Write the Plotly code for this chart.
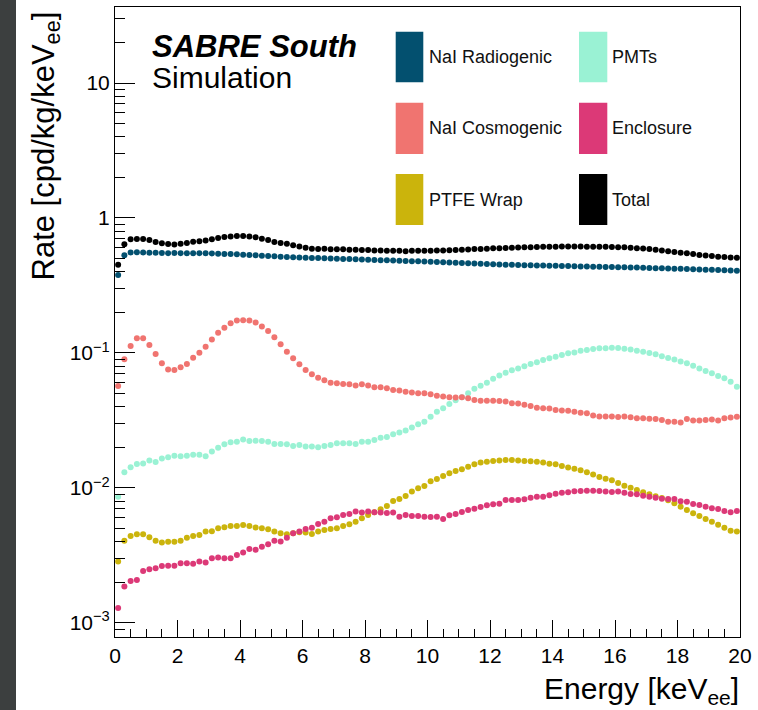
import plotly.graph_objects as go

# ---------------- data ----------------
energy = [0.1, 0.3, 0.5, 0.7, 0.9, 1.1, 1.3, 1.5, 1.7, 1.9,
          2.1, 2.3, 2.5, 2.7, 2.9, 3.1, 3.3, 3.5, 3.7, 3.9,
          4.1, 4.3, 4.5, 4.7, 4.9, 5.1, 5.3, 5.5, 5.7, 5.9,
          6.1, 6.3, 6.5, 6.7, 6.9, 7.1, 7.3, 7.5, 7.7, 7.9,
          8.1, 8.3, 8.5, 8.7, 8.9, 9.1, 9.3, 9.5, 9.7, 9.9,
          10.1, 10.3, 10.5, 10.7, 10.9, 11.1, 11.3, 11.5, 11.7, 11.9,
          12.1, 12.3, 12.5, 12.7, 12.9, 13.1, 13.3, 13.5, 13.7, 13.9,
          14.1, 14.3, 14.5, 14.7, 14.9, 15.1, 15.3, 15.5, 15.7, 15.9,
          16.1, 16.3, 16.5, 16.7, 16.9, 17.1, 17.3, 17.5, 17.7, 17.9,
          18.1, 18.3, 18.5, 18.7, 18.9, 19.1, 19.3, 19.5, 19.7, 19.9]

nai_radiogenic = [0.378, 0.53, 0.556, 0.558, 0.556, 0.553, 0.552, 0.55, 0.549, 0.55,
                  0.549, 0.548, 0.548, 0.549, 0.548, 0.546, 0.544, 0.542, 0.54, 0.538,
                  0.535, 0.532, 0.529, 0.526, 0.523, 0.52, 0.517, 0.515, 0.512, 0.51,
                  0.508, 0.506, 0.505, 0.503, 0.501, 0.499, 0.497, 0.496, 0.494, 0.492,
                  0.49, 0.489, 0.487, 0.486, 0.484, 0.482, 0.481, 0.479, 0.478, 0.476,
                  0.475, 0.473, 0.471, 0.469, 0.467, 0.465, 0.463, 0.461, 0.459, 0.457,
                  0.455, 0.453, 0.451, 0.45, 0.448, 0.447, 0.446, 0.445, 0.444, 0.443,
                  0.442, 0.441, 0.44, 0.439, 0.438, 0.437, 0.436, 0.435, 0.434, 0.433,
                  0.432, 0.431, 0.43, 0.429, 0.428, 0.427, 0.425, 0.424, 0.423, 0.421,
                  0.42, 0.419, 0.417, 0.416, 0.414, 0.413, 0.411, 0.41, 0.408, 0.407]

nai_cosmogenic = [0.057, 0.0898, 0.1127, 0.1285, 0.1285, 0.1147, 0.0984, 0.0838, 0.0756, 0.0748,
                  0.0783, 0.083, 0.0923, 0.1006, 0.1114, 0.126, 0.141, 0.154, 0.166, 0.174,
                  0.175, 0.174, 0.168, 0.157, 0.1456, 0.1306, 0.116, 0.1023, 0.0913, 0.0824,
                  0.0748, 0.0695, 0.0656, 0.0628, 0.0603, 0.0597, 0.059, 0.0586, 0.0575, 0.0586,
                  0.0575, 0.0557, 0.0557, 0.0547, 0.0532, 0.0527, 0.0516, 0.051, 0.0503, 0.0503,
                  0.0494, 0.0483, 0.0475, 0.047, 0.0468, 0.047, 0.0462, 0.0449, 0.0443, 0.0443,
                  0.0443, 0.0441, 0.0437, 0.0424, 0.0422, 0.0414, 0.0405, 0.0393, 0.0389, 0.0388,
                  0.0378, 0.0375, 0.0374, 0.0367, 0.0361, 0.0357, 0.0344, 0.0339, 0.0339, 0.0339,
                  0.0336, 0.0339, 0.0334, 0.0328, 0.0328, 0.0325, 0.0324, 0.0319, 0.031, 0.031,
                  0.0305, 0.0324, 0.0316, 0.0316, 0.0319, 0.0322, 0.0316, 0.0328, 0.0333, 0.0337]

ptfe_wrap = [0.00285, 0.00407, 0.0044, 0.00454, 0.00454, 0.00431, 0.00407, 0.00394, 0.00399, 0.00399,
             0.00407, 0.00428, 0.0044, 0.00449, 0.00475, 0.00478, 0.00502, 0.00512, 0.00523, 0.00523,
             0.00532, 0.00523, 0.0051, 0.00502, 0.00494, 0.00475, 0.00462, 0.00454, 0.00462, 0.0047,
             0.00468, 0.00457, 0.00475, 0.00489, 0.00497, 0.00502, 0.00523, 0.00538, 0.00563, 0.00596,
             0.00631, 0.0066, 0.00695, 0.00736, 0.00801, 0.0083, 0.00873, 0.0094, 0.00995, 0.01035,
             0.0112, 0.01166, 0.01227, 0.01285, 0.01337, 0.01375, 0.01438, 0.01497, 0.01541, 0.01567,
             0.01585, 0.01595, 0.0161, 0.0161, 0.01595, 0.01585, 0.0158, 0.01567, 0.01541, 0.01514,
             0.01497, 0.01455, 0.01415, 0.0139, 0.01351, 0.01306, 0.01256, 0.01206, 0.01172, 0.0114,
             0.01088, 0.0104, 0.01005, 0.00966, 0.00929, 0.00897, 0.00867, 0.00843, 0.0081, 0.0077,
             0.00727, 0.00687, 0.00649, 0.00621, 0.00589, 0.00563, 0.00535, 0.00508, 0.00483, 0.00475]

pmts = [0.00862, 0.01306, 0.01423, 0.01507, 0.0152, 0.016, 0.0156, 0.0165, 0.0169, 0.0173,
        0.0172, 0.0173, 0.0176, 0.0176, 0.0172, 0.0186, 0.0199, 0.0211, 0.0218, 0.022,
        0.0229, 0.0223, 0.0224, 0.0223, 0.022, 0.0212, 0.0212, 0.0211, 0.0205, 0.0208,
        0.0203, 0.0203, 0.02, 0.0205, 0.0208, 0.0214, 0.0214, 0.0214, 0.0212, 0.022,
        0.022, 0.0227, 0.0236, 0.0239, 0.025, 0.0258, 0.0266, 0.028, 0.0297, 0.031,
        0.0337, 0.0367, 0.0389, 0.0419, 0.0446, 0.047, 0.0503, 0.0544, 0.0573, 0.0603,
        0.0645, 0.068, 0.0715, 0.0744, 0.0769, 0.0796, 0.0829, 0.0853, 0.0887, 0.0913,
        0.0939, 0.0966, 0.0995, 0.101, 0.104, 0.1052, 0.107, 0.1083, 0.1083, 0.1095,
        0.109, 0.1075, 0.106, 0.104, 0.1023, 0.1, 0.0977, 0.0945, 0.0919, 0.0893,
        0.0863, 0.0838, 0.0805, 0.0769, 0.0736, 0.0707, 0.0676, 0.0649, 0.0613, 0.0563]

enclosure = [0.00129, 0.00186, 0.00205, 0.00208, 0.00243, 0.0025, 0.00254, 0.00264, 0.00265, 0.00265,
             0.00277, 0.00277, 0.00274, 0.00285, 0.0028, 0.00301, 0.00305, 0.00301, 0.00301, 0.00319,
             0.00332, 0.00353, 0.00348, 0.00367, 0.00383, 0.00407, 0.00401, 0.00428, 0.00462, 0.00475,
             0.00497, 0.00507, 0.00541, 0.00563, 0.00596, 0.00606, 0.00631, 0.00641, 0.00668, 0.00658,
             0.00668, 0.0066, 0.00658, 0.00652, 0.00658, 0.00613, 0.00631, 0.0062, 0.0062, 0.00613,
             0.0061, 0.00613, 0.00589, 0.00628, 0.00642, 0.00664, 0.00687, 0.00703, 0.00723, 0.00745,
             0.00757, 0.00765, 0.00815, 0.00815, 0.00815, 0.00824, 0.00848, 0.00862, 0.00862, 0.00883,
             0.00908, 0.00923, 0.00928, 0.00945, 0.0095, 0.00952, 0.00952, 0.0095, 0.0094, 0.00932,
             0.0094, 0.00923, 0.00903, 0.00898, 0.00877, 0.00862, 0.00848, 0.00833, 0.00828, 0.00828,
             0.00797, 0.00792, 0.00761, 0.00748, 0.00727, 0.00707, 0.00699, 0.00676, 0.0066, 0.00676]

total = [0.45, 0.64, 0.695, 0.70, 0.70, 0.687, 0.664, 0.65, 0.642, 0.637,
         0.645, 0.653, 0.668, 0.673, 0.68, 0.695, 0.711, 0.723, 0.73, 0.736,
         0.736, 0.73, 0.72, 0.703, 0.687, 0.664, 0.653, 0.645, 0.628, 0.614,
         0.603, 0.593, 0.59, 0.593, 0.586, 0.586, 0.586, 0.582, 0.582, 0.579,
         0.579, 0.575, 0.575, 0.572, 0.572, 0.572, 0.568, 0.572, 0.572, 0.572,
         0.572, 0.574, 0.575, 0.577, 0.58, 0.582, 0.585, 0.588, 0.59, 0.593,
         0.596, 0.598, 0.6, 0.603, 0.605, 0.607, 0.608, 0.61, 0.611, 0.612,
         0.613, 0.614, 0.614, 0.614, 0.614, 0.613, 0.613, 0.612, 0.611, 0.61,
         0.608, 0.606, 0.603, 0.598, 0.594, 0.588, 0.582, 0.575, 0.568, 0.56,
         0.553, 0.547, 0.54, 0.533, 0.528, 0.522, 0.517, 0.513, 0.51, 0.508]

series_names = ["NaI Radiogenic", "NaI Cosmogenic", "PTFE Wrap", "PMTs", "Enclosure", "Total"]
series_values = [nai_radiogenic, nai_cosmogenic, ptfe_wrap, pmts, enclosure, total]
series_colors = ["#03506f", "#f07470", "#cbb40c", "#9af2d4", "#dc3977", "#000000"]

y_major = [1e-3, 1e-2, 1e-1, 1, 10]
y_major_text = ["10<sup>\u22123</sup>", "10<sup>\u22122</sup>", "10<sup>\u22121</sup>", "1", "10"]
y_minor = [m * 10 ** d for d in range(-4, 2) for m in range(2, 10)]
x_major = [0, 2, 4, 6, 8, 10, 12, 14, 16, 18, 20]

FONT = "Liberation Sans, Arial, Helvetica, sans-serif"

# ---------------- figure ----------------
fig = go.Figure()
draw_order = [3, 2, 4, 1, 0, 5]
for i in draw_order:
    fig.add_trace(go.Scatter(
        x=energy, y=series_values[i], mode="markers", name=series_names[i],
        marker=dict(color=series_colors[i], size=6, line=dict(width=0)),
        showlegend=False, cliponaxis=True,
    ))

# plot area in pixels: x 115..740, y 7..637
L, R, T, B = 115, 740, 7, 637
W, H = 758, 710
def px(x):
    return (x - L) / (R - L)
def py(y):
    return (B - y) / (B - T)

shapes = []
# dark strip on left edge of the image
shapes.append(dict(type="rect", xref="paper", yref="paper",
                   x0=px(0), x1=px(16), y0=py(H + 5), y1=py(-5),
                   fillcolor="#3c3f3f", line=dict(width=0), layer="below"))

annotations = []
# legend: filled boxes with labels
legend_cols = [(395.7, 423.3, 427.0), (579.0, 607.3, 610.0)]
legend_rows = [(31.7, 82.3), (102.7, 154.0), (174.0, 225.0)]
legend_layout = [(0, 0), (0, 1), (0, 2), (1, 0), (1, 1), (1, 2)]
for i, (c, r) in enumerate(legend_layout):
    bx0, bx1, tx = legend_cols[c]
    ry0, ry1 = legend_rows[r]
    shapes.append(dict(type="rect", xref="paper", yref="paper",
                       x0=px(bx0), x1=px(bx1), y0=py(ry1), y1=py(ry0),
                       fillcolor=series_colors[i], line=dict(width=0)))
    annotations.append(dict(text=series_names[i], xref="paper", yref="paper",
                            x=px(tx), y=py((ry0 + ry1) / 2), xanchor="left", yanchor="middle",
                            showarrow=False, font=dict(family=FONT, size=18, color="#111111")))

annotations.append(dict(text="<b><i>SABRE South</i></b>", xref="paper", yref="paper",
                        x=px(150), y=py(46), xanchor="left", yanchor="middle", showarrow=False,
                        font=dict(family=FONT, size=31, color="black")))
annotations.append(dict(text="Simulation", xref="paper", yref="paper",
                        x=px(150), y=py(77), xanchor="left", yanchor="middle", showarrow=False,
                        font=dict(family=FONT, size=30, color="black")))
annotations.append(dict(text="Rate [cpd/kg/keV<sub>ee</sub>]", xref="paper", yref="paper",
                        x=px(45), y=py(10), xanchor="center", yanchor="top", textangle=-90,
                        showarrow=False, font=dict(family=FONT, size=31, color="black")))
annotations.append(dict(text="Energy [keV<sub>ee</sub>]", xref="paper", yref="paper",
                        x=px(741), y=py(690), xanchor="right", yanchor="middle",
                        showarrow=False, font=dict(family=FONT, size=30, color="black")))

fig.update_layout(
    width=W, height=H,
    margin=dict(l=L, r=W - R, t=T, b=H - B, pad=0),
    paper_bgcolor="white", plot_bgcolor="white",
    font=dict(family=FONT, color="black"),
    shapes=shapes, annotations=annotations,
    showlegend=False,
)
fig.update_xaxes(
    range=[0, 20], showgrid=False, zeroline=False,
    showline=True, linecolor="black", linewidth=1, mirror=True,
    ticks="inside", ticklen=17, tickwidth=1, tickcolor="black",
    tickmode="array", tickvals=x_major, ticktext=[str(v) for v in x_major],
    tickfont=dict(family=FONT, size=21, color="black"),
    minor=dict(ticks="inside", ticklen=8, tickwidth=1, tickcolor="black", dtick=0.5, showgrid=False),
    automargin=False,
)
fig.update_yaxes(
    type="log", range=[-3.104, 1.563], showgrid=False, zeroline=False,
    showline=True, linecolor="black", linewidth=1, mirror=True,
    ticks="inside", ticklen=20, tickwidth=1, tickcolor="black",
    tickmode="array", tickvals=y_major, ticktext=y_major_text,
    tickfont=dict(family=FONT, size=21, color="black"),
    minor=dict(ticks="inside", ticklen=10, tickwidth=1, tickcolor="black",
               tickmode="array", tickvals=y_minor, showgrid=False),
    automargin=False,
)

fig.write_html("out.html")
